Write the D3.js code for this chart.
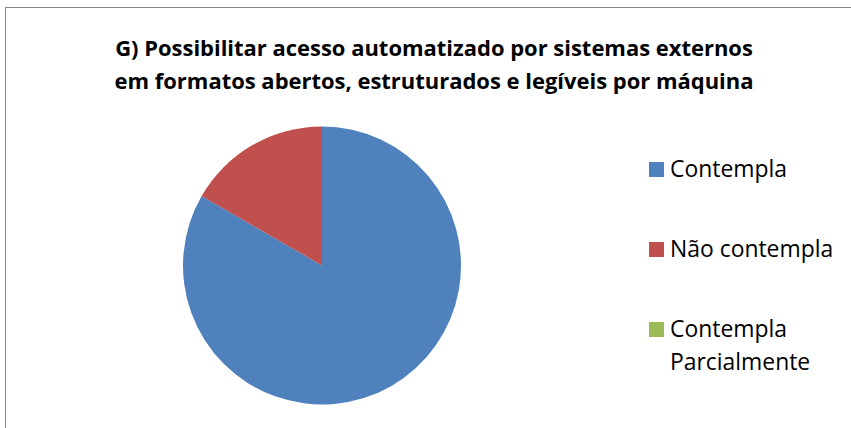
<!DOCTYPE html>
<html>
<head>
<meta charset="utf-8">
<script src="https://cdn.jsdelivr.net/npm/d3@7"></script>
<style>
  html, body { margin: 0; padding: 0; background: #fff; }
  svg { display: block; }
</style>
</head>
<body>
<svg id="chart" width="851" height="428"></svg>
<script>
const titleLines = ["G) Possibilitar acesso automatizado por sistemas externos",
                    "em formatos abertos, estruturados e legíveis por máquina"];
const categories = ["Contempla", "Não contempla", "Contempla Parcialmente"];
const values = [5, 1, 0];
const colors = ["#4F81BD", "#C0504D", "#9BBB59"];

const svg = d3.select("#chart");
const W = 851, H = 428;

svg.append("rect").attr("x", 0).attr("y", 0).attr("width", W).attr("height", H).attr("fill", "#fff");
svg.append("rect").attr("x", 5.5).attr("y", 7.5).attr("width", W).attr("height", H)
  .attr("fill", "none").attr("stroke", "#868686").attr("stroke-width", 1);

const font = "'Open Sans', Lato, sans-serif";

function fitWidth(sel, target) {
  const node = sel.node();
  const fs = parseFloat(sel.attr("font-size"));
  const w = node.getComputedTextLength();
  sel.attr("font-size", (fs * target / w).toFixed(2));
}

const titleSel = svg.append("g").selectAll("text").data(titleLines).join("text")
  .attr("x", 434).attr("y", (d, i) => 56 + i * 33)
  .attr("text-anchor", "middle")
  .attr("font-family", font).attr("font-weight", "bold").attr("font-size", 20)
  .attr("fill", "#000").text(d => d);
fitWidth(d3.select(titleSel.nodes()[0]), 638);
d3.select(titleSel.nodes()[1]).attr("font-size", d3.select(titleSel.nodes()[0]).attr("font-size"));

const cx = 322, cy = 265.5, r = 139;
const data = categories.map((c, i) => ({ cat: c, value: values[i], color: colors[i] }));
const pie = d3.pie().value(d => d.value).sort(null);
const arc = d3.arc().innerRadius(0).outerRadius(r);

svg.append("g").attr("transform", `translate(${cx},${cy})`)
  .selectAll("path").data(pie(data)).join("path")
  .attr("d", arc).attr("fill", d => d.data.color);

const legendY = [177, 257, 337];
const lg = svg.append("g");
let firstText = null;
data.forEach((d, i) => {
  lg.append("rect").attr("x", 649).attr("y", legendY[i] - 15).attr("width", 15).attr("height", 15)
    .attr("fill", d.color);
  const t = lg.append("text").attr("class", "lt").attr("x", 670).attr("y", legendY[i])
    .attr("font-family", font).attr("font-size", 20).attr("fill", "#000");
  if (d.cat === "Contempla Parcialmente") {
    t.append("tspan").attr("x", 670).attr("dy", 0).text("Contempla");
    t.append("tspan").attr("x", 670).attr("dy", 33).text("Parcialmente");
  } else {
    t.text(d.cat);
  }
  if (i === 0) firstText = t;
});
fitWidth(firstText, 117);
lg.selectAll("text.lt").attr("font-size", firstText.attr("font-size"));
</script>
</body>
</html>
